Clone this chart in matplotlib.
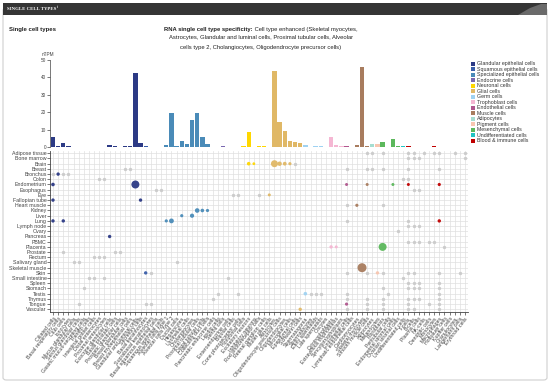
import matplotlib
matplotlib.use("Agg")
import matplotlib.pyplot as plt
from matplotlib.patches import FancyBboxPatch, Rectangle, Polygon

W, H = 550, 385
plt.rcParams['font.family'] = ['Liberation Sans', 'DejaVu Sans']

# cell type groups (legend order), colours and member cell types
group_names = ["Glandular epithelial cells", "Squamous epithelial cells", "Specialized epithelial cells",
               "Endocrine cells", "Neuronal cells", "Glial cells", "Germ cells", "Trophoblast cells",
               "Endothelial cells", "Muscle cells", "Adipocytes", "Pigment cells", "Mesenchymal cells",
               "Undifferentiated cells", "Blood & immune cells"]
group_colors = ["#2c3a85", "#3a5ea9", "#4a8bb8", "#7a68b0", "#ffd700", "#e0b866", "#9fd2f2", "#f5b7d3",
                "#b0578e", "#a87c5e", "#a6ddd0", "#f8c6b0", "#5cb85c", "#22c4c4", "#c00000"]
group_cells = [
    ["Ciliated cells", "Basal respiratory cells", "Club cells", "Ionocytes", "Mucus glandular cells",
     "Serous glandular cells", "Gastric mucus-secreting cells", "Paneth cells", "Intestinal goblet cells",
     "Distal enterocytes", "Proximal enterocytes", "Exocrine glandular cells", "Basal prostatic cells",
     "Prostatic glandular cells", "Breast glandular cells", "Breast myoepithelial cells",
     "Glandular and luminal cells", "Secretory cells"],
    ["Basal keratinocytes", "Suprabasal keratinocytes", "Basal squamous epithelial cells",
     "Squamous epithelial cells"],
    ["Alveolar cells type 1", "Alveolar cells type 2", "Ductal cells", "Hepatocytes", "Urothelial cells",
     "Cholangiocytes", "Proximal tubular cells", "Distal tubular cells", "Collecting duct cells"],
    ["Pancreatic endocrine cells", "Leydig cells", "Sertoli cells", "Enteroendocrine cells"],
    ["Bipolar cells", "Cone photoreceptor cells", "Horizontal cells", "Excitatory neurons",
     "Inhibitory neurons", "Rod photoreceptor cells", "Retinal ganglion cells"],
    ["Müller glia cells", "Astrocytes", "Oligodendrocyte precursor cells", "Oligodendrocytes",
     "Microglial cells", "Ependymal cells", "Schwann cells"],
    ["Spermatogonia", "Spermatocytes", "Early spermatids", "Late spermatids", "Oocytes"],
    ["Cytotrophoblasts", "Extravillous trophoblasts", "Syncytiotrophoblasts"],
    ["Endothelial cells", "Lymphatic endothelial cells"],
    ["Cardiomyocytes", "Skeletal myocytes", "Smooth muscle cells"],
    ["Adipocytes"],
    ["Melanocytes"],
    ["Fibroblasts", "Peritubular cells", "Endometrial stromal cells", "Ovarian stromal cells"],
    ["Undifferentiated cells"],
    ["T-cells", "B-cells", "Plasma cells", "NK-cells", "Dendritic cells", "Monocytes", "Macrophages",
     "Hofbauer cells", "Kupffer cells", "Granulocytes", "Langerhans cells", "Erythroid cells"],
]

# max nTPM per cell type (bar chart), same order as the flattened cell types
bar_values = [5.6, 0.8, 2.1, 0.5, 0, 0, 0, 0, 0, 0, 0, 1.0, 0.3, 0, 0.4, 0.4, 42.3, 2.5,
              0.6, 0.2, 0, 0,
              1.3, 19.3, 0.3, 3.4, 1.5, 15.5, 19.7, 5.9, 1.7,
              0.1, 0, 0.5, 0.2,
              0, 0, 0.3, 8.8, 0, 0.3, 0.3,
              0, 43.9, 14.6, 9.2, 3.6, 2.7, 2.5,
              0.9, 0, 0.3, 0.3, 0,
              5.6, 1.3, 0.3,
              0.7, 0.2,
              1.2, 46.2, 0.5,
              1.8,
              1.5,
              3.1, 0, 4.4, 0.5,
              0.5,
              0.4, 0, 0, 0, 0, 0.3, 0.2, 0, 0.2, 0, 0, 0]

tissues = ["Adipose tissue", "Bone marrow", "Brain", "Breast", "Bronchus", "Colon", "Endometrium",
           "Esophagus", "Eye", "Fallopian tube", "Heart muscle", "Kidney", "Liver", "Lung", "Lymph node",
           "Ovary", "Pancreas", "PBMC", "Placenta", "Prostate", "Rectum", "Salivary gland",
           "Skeletal muscle", "Skin", "Small intestine", "Spleen", "Stomach", "Testis", "Thymus",
           "Tongue", "Vascular"]

# coloured dots: tissue -> [(cell type, dot size)]
dots_enhanced = {
    "Brain": [("Excitatory neurons", 3.6), ("Inhibitory neurons", 2.8), ("Astrocytes", 7.0),
              ("Oligodendrocyte precursor cells", 4.4), ("Oligodendrocytes", 3.8), ("Microglial cells", 3.2)],
    "Bronchus": [("Basal respiratory cells", 3.4)],
    "Endometrium": [("Ciliated cells", 3.6), ("Glandular and luminal cells", 8.0), ("Endothelial cells", 3.0),
                    ("Smooth muscle cells", 3.0), ("Endometrial stromal cells", 3.0), ("T-cells", 3.0),
                    ("Macrophages", 3.2)],
    "Eye": [("Müller glia cells", 3.0)],
    "Fallopian tube": [("Ciliated cells", 3.4), ("Secretory cells", 3.4)],
    "Heart muscle": [("Cardiomyocytes", 3.2)],
    "Kidney": [("Proximal tubular cells", 4.6), ("Distal tubular cells", 3.6), ("Collecting duct cells", 3.2)],
    "Liver": [("Hepatocytes", 3.2), ("Cholangiocytes", 4.2)],
    "Lung": [("Ciliated cells", 3.4), ("Club cells", 3.4), ("Alveolar cells type 1", 3.2),
             ("Alveolar cells type 2", 4.8), ("Macrophages", 3.4)],
    "Pancreas": [("Exocrine glandular cells", 3.4)],
    "Placenta": [("Cytotrophoblasts", 3.4), ("Extravillous trophoblasts", 3.0), ("Fibroblasts", 8.0)],
    "Skeletal muscle": [("Skeletal myocytes", 9.0)],
    "Skin": [("Basal keratinocytes", 3.4), ("Melanocytes", 3.4)],
    "Testis": [("Spermatogonia", 3.6)],
    "Tongue": [("Endothelial cells", 3.2)],
    "Vascular": [("Schwann cells", 3.4)],
}

# grey dots: tissue -> [cell types]
dots_other = {
    "Adipose tissue": ["Smooth muscle cells", "Adipocytes", "Fibroblasts", "T-cells", "B-cells", "NK-cells",
                       "Monocytes", "Macrophages", "Granulocytes", "Erythroid cells"],
    "Bone marrow": ["T-cells", "B-cells", "Plasma cells", "Erythroid cells"],
    "Brain": ["Ependymal cells"],
    "Breast": ["Breast glandular cells", "Breast myoepithelial cells", "Endothelial cells",
               "Smooth muscle cells", "Adipocytes", "Fibroblasts", "T-cells", "Macrophages"],
    "Bronchus": ["Ciliated cells", "Club cells", "Ionocytes"],
    "Colon": ["Distal enterocytes", "Proximal enterocytes", "Undifferentiated cells", "T-cells"],
    "Esophagus": ["Basal squamous epithelial cells", "Squamous epithelial cells", "B-cells", "Plasma cells"],
    "Eye": ["Bipolar cells", "Cone photoreceptor cells", "Rod photoreceptor cells"],
    "Heart muscle": ["Endothelial cells", "Fibroblasts"],
    "Lung": ["Endothelial cells", "T-cells"],
    "Lymph node": ["T-cells", "B-cells", "Plasma cells"],
    "Ovary": ["Ovarian stromal cells"],
    "PBMC": ["T-cells", "B-cells", "Plasma cells", "Dendritic cells", "Monocytes"],
    "Placenta": ["Hofbauer cells"],
    "Prostate": ["Club cells", "Basal prostatic cells", "Prostatic glandular cells"],
    "Rectum": ["Intestinal goblet cells", "Distal enterocytes", "Proximal enterocytes"],
    "Salivary gland": ["Mucus glandular cells", "Serous glandular cells", "Ductal cells"],
    "Skin": ["Suprabasal keratinocytes", "Endothelial cells", "Smooth muscle cells", "Fibroblasts", "T-cells",
             "B-cells", "Macrophages", "Langerhans cells"],
    "Small intestine": ["Paneth cells", "Intestinal goblet cells", "Proximal enterocytes",
                        "Enteroendocrine cells", "Undifferentiated cells"],
    "Spleen": ["T-cells", "B-cells", "Plasma cells", "Macrophages"],
    "Stomach": ["Gastric mucus-secreting cells", "Fibroblasts", "T-cells", "B-cells", "Plasma cells",
                "Macrophages"],
    "Testis": ["Leydig cells", "Cone photoreceptor cells", "Spermatocytes", "Early spermatids",
               "Late spermatids", "Endothelial cells", "Peritubular cells", "Macrophages"],
    "Thymus": ["Pancreatic endocrine cells", "Endothelial cells", "Smooth muscle cells", "Fibroblasts",
               "T-cells", "B-cells", "Plasma cells", "Macrophages"],
    "Tongue": ["Serous glandular cells", "Basal keratinocytes", "Suprabasal keratinocytes",
               "Smooth muscle cells", "Fibroblasts", "T-cells", "Dendritic cells", "Macrophages"],
    "Vascular": ["Endothelial cells", "Smooth muscle cells", "Fibroblasts", "T-cells", "B-cells",
                 "Macrophages"],
}

title_bold = "RNA single cell type specificity:"
title_lines = [" Cell type enhanced (Skeletal myocytes,",
               "Astrocytes, Glandular and luminal cells, Proximal tubular cells, Alveolar",
               "cells type 2, Cholangiocytes, Oligodendrocyte precursor cells)"]

# ---- derived lists
cell_types, cell_colors = [], []
for cells, col in zip(group_cells, group_colors):
    cell_types += cells
    cell_colors += [col] * len(cells)
xpos = {c: i for i, c in enumerate(cell_types)}
ypos = {t: i for i, t in enumerate(tissues)}


def box(x0, y0, x1, y1):
    return [x0 / W, 1 - y1 / H, (x1 - x0) / W, (y1 - y0) / H]


def fxy(x, y):
    return (x / W, 1 - y / H)


fig = plt.figure(figsize=(5.5, 3.85), dpi=100, facecolor='white')

# panel frame + dark header (kept behind the axes)
frame = FancyBboxPatch((3 / W, 5 / H), 544 / W, 372 / H, boxstyle="round,pad=0,rounding_size=0.006",
                       transform=fig.transFigure, facecolor='none', edgecolor='#cfcfcf', lw=0.8, zorder=-1)
fig.patches.append(frame)
fig.patches.append(Rectangle(fxy(3, 15), 544 / W, 12 / H, transform=fig.transFigure,
                             facecolor='#353535', edgecolor='none', zorder=-1))
fig.patches.append(Polygon([fxy(518, 15), fxy(530, 8), fxy(541, 4), fxy(547, 4), fxy(547, 15)],
                           closed=True, transform=fig.transFigure, facecolor='#6a6a6a', edgecolor='none',
                           zorder=-1))
hdr = fig.text(7 / W, 1 - 9.5 / H, "SINGLE CELL TYPES", color='white', fontsize=3.5, fontweight='bold',
               family='Liberation Serif', va='center', ha='left')
renderer = fig.canvas.get_renderer()
hx = hdr.get_window_extent(renderer).x1
fig.text(hx / W + 0.8 / W, 1 - 7.5 / H, "i", color='white', fontsize=2.4, fontweight='bold',
         va='center', ha='left')
fig.text(9 / W, 1 - 29 / H, "Single cell types", fontsize=4.3, fontweight='bold', va='center', color='#222')

# title with a bold prefix, centred lines
cx = 261 / W
tfs = 4.25
tb = fig.text(0, 0, title_bold, fontsize=tfs, fontweight='bold', color='#222', va='center')
tn = fig.text(0, 0, title_lines[0], fontsize=tfs, color='#222', va='center')
wb = tb.get_window_extent(renderer).width / W
wn = tn.get_window_extent(renderer).width / W
x0 = cx - (wb + wn) / 2
tb.set_position((x0, 1 - 29 / H))
tn.set_position((x0 + wb, 1 - 29 / H))
for k, line in enumerate(title_lines[1:]):
    fig.text(cx, 1 - (38 + 9 * k) / H, line, fontsize=tfs, color='#222', va='center', ha='center')

xl, xr = 50.4, 467.6
n = len(cell_types)

# ---- bar chart
ax_b = fig.add_axes(box(xl, 60, xr, 147))
ax_b.bar(range(n), bar_values, width=0.84, color=cell_colors, linewidth=0)
ax_b.set_xlim(-0.5, n - 0.5)
ax_b.set_ylim(0, 50)
ax_b.set_xticks([])
ax_b.set_yticks(range(0, 51, 10))
ax_b.tick_params(axis='y', labelsize=3.4, length=2, width=0.5, colors='#444', pad=1)
for s in ['top', 'right', 'bottom']:
    ax_b.spines[s].set_visible(False)
ax_b.spines['left'].set_color('#444')
ax_b.spines['left'].set_linewidth(0.5)
fig.text(48 / W, 1 - 54 / H, "nTPM", fontsize=3.4, color='#444', ha='center', va='center')

# ---- dot matrix
ax_d = fig.add_axes(box(xl, 150.7, xr, 311.9))
ax_d.set_xlim(-0.5, n - 0.5)
ax_d.set_ylim(len(tissues) - 0.5, -0.5)
ax_d.set_xticks(range(n))
ax_d.set_yticks(range(len(tissues)))
ax_d.set_yticklabels(tissues)
ax_d.set_xticklabels(cell_types, rotation=52, ha='right', va='top', rotation_mode='anchor')
ax_d.tick_params(axis='both', labelsize=3.8, length=2, width=0.5, colors='#444', pad=1)
ax_d.tick_params(axis='y', labelsize=3.8, pad=0.8)
ax_d.grid(True, color='#e0e0e0', lw=0.5)
ax_d.set_axisbelow(True)
for s in ['top', 'right']:
    ax_d.spines[s].set_visible(False)
for s in ['left', 'bottom']:
    ax_d.spines[s].set_color('#444')
    ax_d.spines[s].set_linewidth(0.6)

gx, gy = [], []
for t, cells in dots_other.items():
    for c in cells:
        gx.append(xpos[c])
        gy.append(ypos[t])
ax_d.scatter(gx, gy, s=(3.4 * 0.72) ** 2, color='#cccccc', linewidths=0, zorder=3)

ex, ey, es, ec = [], [], [], []
for t, items in dots_enhanced.items():
    for c, d in items:
        ex.append(xpos[c])
        ey.append(ypos[t])
        es.append((d * 0.72) ** 2)
        ec.append(cell_colors[xpos[c]])
ax_d.scatter(ex, ey, s=es, c=ec, linewidths=0, zorder=4, alpha=0.95)

# ---- legend
for k, (name, col) in enumerate(zip(group_names, group_colors)):
    yc = 63.5 + 5.52 * k
    fig.patches.append(Rectangle(fxy(471, yc + 2), 4 / W, 4 / H, transform=fig.transFigure,
                                 facecolor=col, edgecolor='none'))
    fig.text(477 / W, 1 - yc / H, name, fontsize=3.8, color='#333', va='center', ha='left')

fig.savefig("out.png", dpi=100, facecolor='white')
